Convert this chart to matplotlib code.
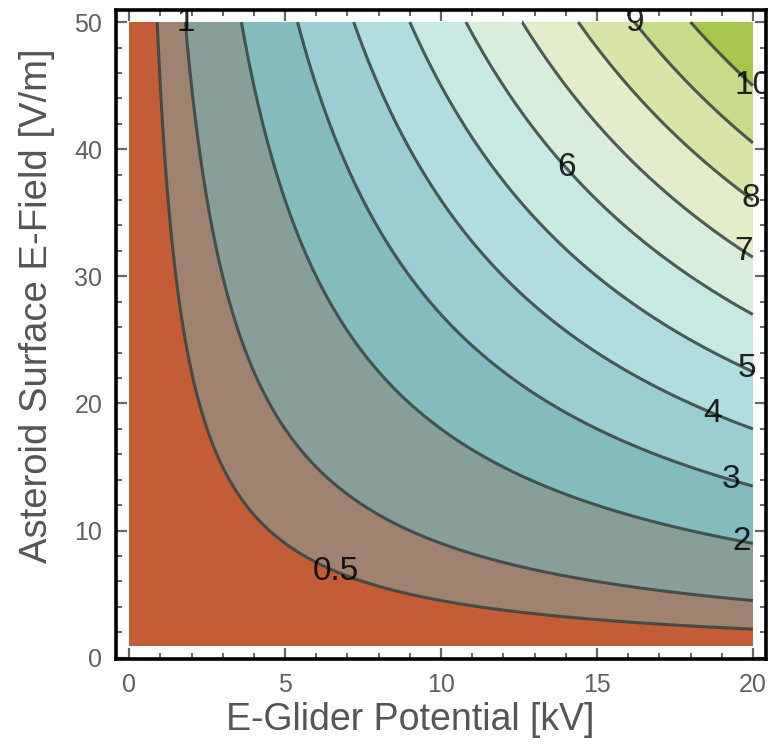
import matplotlib.pyplot as plt
import numpy as np

plt.rcParams['font.family'] = ['Liberation Sans', 'DejaVu Sans']

# axis ranges of the plotted function
potential = np.linspace(0, 20, 401)     # kV
efield = np.linspace(1, 50, 491)        # V/m
scale = 90.0                            # value = V * E / scale

levels = [0.5, 1, 2, 3, 4, 5, 6, 7, 8, 9, 10]
fill_colors = ["#C45D35", "#A08270", "#889F99", "#84BBBF", "#9CCDD3", "#B2DDE0",
               "#C8E8E2", "#D9EDDB", "#E3EDCA", "#D8E5A6", "#C8DB88", "#A6C74B"]

# where the labels sit on each contour (x, y)
label_spots = [(6.6, 6.7), (1.73, 50.0), (19.65, 9.2), (19.3, 13.9), (18.7, 19.2),
               (19.8, 22.7), (13.9, 38.3), (19.65, 31.8), (19.87, 35.9),
               (16.06, 50.0), (19.84, 44.6)]

V, E = np.meshgrid(potential, efield)
Z = V * E / scale

fig = plt.figure(figsize=(7.71, 7.46), dpi=100)
ax = fig.add_axes([0.1505, 0.1166, 0.843, 0.870])

bounds = [-1] + levels + [100]
ax.contourf(V, E, Z, levels=bounds, colors=fill_colors)
cs = ax.contour(V, E, Z, levels=levels, colors="#35423F", linewidths=2.2, alpha=0.85)
lbls = ax.clabel(cs, manual=label_spots, inline=False, fontsize=24, colors="black",
                 fmt=lambda v: f"{v:g}")
for t in lbls:
    t.set_rotation(0)
    t.set_ha("center")
    t.set_va("center")

ax.set_xlim(-0.42, 20.42)
ax.set_ylim(-0.1, 50.95)
ax.set_xticks(np.arange(0, 21, 5))
ax.set_xticks(np.arange(0, 21, 1), minor=True)
ax.set_yticks(np.arange(0, 51, 10))
ax.set_yticks(np.arange(0, 51, 2), minor=True)

ax.tick_params(which="both", direction="in", top=True, right=True, color="#666666",
               labelcolor="#606060", labelsize=18)
ax.tick_params(which="major", length=8, width=1.6, pad=10)
ax.tick_params(which="minor", length=4, width=1.4)
for s in ax.spines.values():
    s.set_linewidth(2.6)
    s.set_color("black")

ax.set_xlabel("E-Glider Potential [kV]", fontsize=27, color="#555555")
ax.set_ylabel("Asteroid Surface E-Field [V/m]", fontsize=27.5, color="#555555")
ax.xaxis.set_label_coords(0.452, -0.066)
ax.yaxis.set_label_coords(-0.094, 0.545)

fig.savefig("out.png", dpi=100)
